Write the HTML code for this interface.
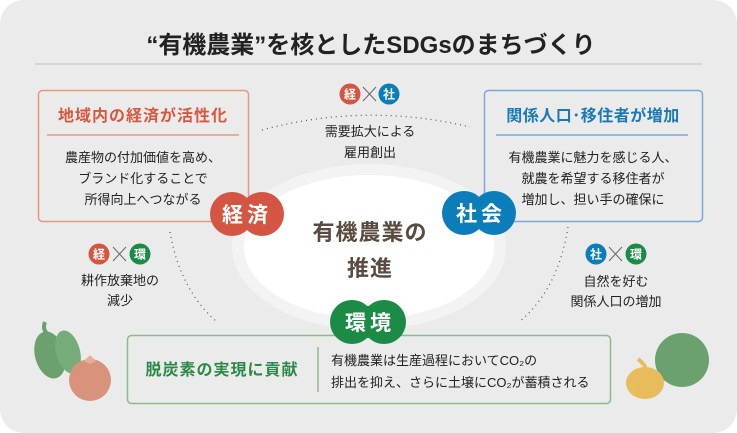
<!DOCTYPE html>
<html><head><meta charset="utf-8"><style>
body{margin:0;width:737px;height:433px;background:#fff;overflow:hidden;font-family:"Liberation Sans","Noto Sans CJK JP",sans-serif;}
</style></head><body>
<svg width="737" height="433" style="position:absolute;left:0;top:0" font-family="Liberation Sans, Noto Sans CJK JP, sans-serif">
<rect x="0" y="0" width="737" height="433" rx="24" fill="#ebebeb"/>
<text x="371" y="53" font-size="24" font-weight="bold" text-anchor="middle" fill="#222">“有機農業”を核としたSDGsのまちづくり</text>
<line x1="35" y1="64" x2="702" y2="64" stroke="#cfcfcf" stroke-width="1.5"/>
<ellipse cx="369" cy="247" rx="137" ry="83" fill="#f3f3f3"/>
<ellipse cx="369" cy="247" rx="125" ry="72" fill="#fff"/>
<path d="M262 130 Q366 102 470 127" fill="none" stroke="#555" stroke-width="1.2" stroke-dasharray="1 4"/>
<path d="M170 232 Q180 290 217 322" fill="none" stroke="#555" stroke-width="1.2" stroke-dasharray="1 4"/>
<path d="M568 227 Q558 290 519 322" fill="none" stroke="#555" stroke-width="1.2" stroke-dasharray="1 4"/>
<rect x="38.5" y="90.5" width="210" height="131" rx="4" fill="#ebebeb" stroke="#e59a80" stroke-width="1.5"/>
<line x1="47" y1="135" x2="239" y2="135" stroke="#e59a80" stroke-width="1.5"/>
<rect x="484.5" y="90.5" width="218" height="131" rx="4" fill="#ebebeb" stroke="#7aa8d6" stroke-width="1.5"/>
<line x1="496" y1="135" x2="688" y2="135" stroke="#7aa8d6" stroke-width="1.5"/>
<rect x="127.5" y="335.5" width="483" height="68" rx="4" fill="#ebebeb" stroke="#89bb8c" stroke-width="1.5"/>
<line x1="318" y1="347" x2="318" y2="392" stroke="#89bb8c" stroke-width="1.5"/>
<g fill="#d35542"><circle cx="232" cy="214" r="22"/><circle cx="262" cy="214" r="22"/><rect x="232" y="198" width="30" height="32"/></g>
<g fill="#0b7db8"><circle cx="464" cy="213" r="22"/><circle cx="494" cy="213" r="22"/><rect x="464" y="197" width="30" height="32"/></g>
<g fill="#1b8b46"><circle cx="352" cy="322" r="22"/><circle cx="384" cy="322" r="22"/><rect x="352" y="306" width="32" height="32"/></g>
<text x="247" y="222" font-size="21" font-weight="bold" fill="#fff" text-anchor="middle" letter-spacing="4">経済</text>
<text x="481" y="221" font-size="21" font-weight="bold" fill="#fff" text-anchor="middle" letter-spacing="4">社会</text>
<text x="370" y="330" font-size="21" font-weight="bold" fill="#fff" text-anchor="middle" letter-spacing="4">環境</text>
<text x="370" y="240" font-size="22" font-weight="bold" fill="#5a4a40" text-anchor="middle" letter-spacing="1">有機農業の</text>
<text x="370" y="276" font-size="22" font-weight="bold" fill="#5a4a40" text-anchor="middle" letter-spacing="1">推進</text>
<g font-size="12" font-weight="bold" fill="#fff" text-anchor="middle">
<circle cx="350" cy="94" r="10.5" fill="#d35542"/><text x="350" y="98.5">経</text>
<circle cx="389" cy="94" r="10.5" fill="#0b7db8"/><text x="389" y="98.5">社</text>
<circle cx="99" cy="254" r="10.5" fill="#d35542"/><text x="99" y="258.5">経</text>
<circle cx="140" cy="254" r="10.5" fill="#1b8b46"/><text x="140" y="258.5">環</text>
<circle cx="596" cy="254" r="10.5" fill="#0b7db8"/><text x="596" y="258.5">社</text>
<circle cx="636" cy="254" r="10.5" fill="#1b8b46"/><text x="636" y="258.5">環</text>
</g>
<g stroke="#666" stroke-width="1"><path d="M363 87 L376 101 M376 87 L363 101"/><path d="M113 247 L126 261 M126 247 L113 261"/><path d="M609 247 L622 261 M622 247 L609 261"/></g>
<text x="143" y="121" font-size="16" font-weight="bold" fill="#d9573f" text-anchor="middle" letter-spacing="1">地域内の経済が活性化</text>
<text x="593" y="121" font-size="16" font-weight="bold" fill="#1a7ab5" text-anchor="middle" letter-spacing="0.5">関係人口･移住者が増加</text>
<text x="222" y="375" font-size="16" font-weight="bold" fill="#2a8a45" text-anchor="middle" letter-spacing="1">脱炭素の実現に貢献</text>
<g font-size="13" fill="#222" text-anchor="middle">
<text x="143" y="162">農産物の付加価値を高め、</text>
<text x="143" y="183">ブランド化することで</text>
<text x="143" y="204">所得向上へつながる</text>
<text x="593" y="162">有機農業に魅力を感じる人、</text>
<text x="593" y="183">就農を希望する移住者が</text>
<text x="593" y="204">増加し、担い手の確保に</text>
<text x="370" y="136">需要拡大による</text>
<text x="370" y="157">雇用創出</text>
<text x="120" y="285">耕作放棄地の</text>
<text x="120" y="305">減少</text>
<text x="616" y="286">自然を好む</text>
<text x="616" y="306">関係人口の増加</text>
<text x="331" y="365" text-anchor="start">有機農業は生産過程においてCO₂の</text>
<text x="331" y="387" text-anchor="start">排出を抑え、さらに土壌にCO₂が蓄積される</text>
</g>
<g opacity="0.9">
<path d="M45 322 Q42 330 48 334" stroke="#5e9a60" stroke-width="4" fill="none"/>
<ellipse cx="50" cy="355" rx="15" ry="24" fill="#5e9a60" transform="rotate(-15 50 355)"/>
<ellipse cx="68" cy="352" rx="12" ry="22" fill="#6aa66c" transform="rotate(-15 68 352)"/>
<circle cx="90" cy="380" r="21" fill="#d88a70"/>
<path d="M84 361 l6 -6 l6 6 l-6 3z" fill="#e8a890"/>
<circle cx="682" cy="360" r="27" fill="#5e9a60"/>
<ellipse cx="645" cy="383" rx="19" ry="16" fill="#e8b84c"/>
<path d="M638 359 Q645 365 645 367" stroke="#e8b84c" stroke-width="4" fill="none"/>
</g>
</svg>
</body></html>
